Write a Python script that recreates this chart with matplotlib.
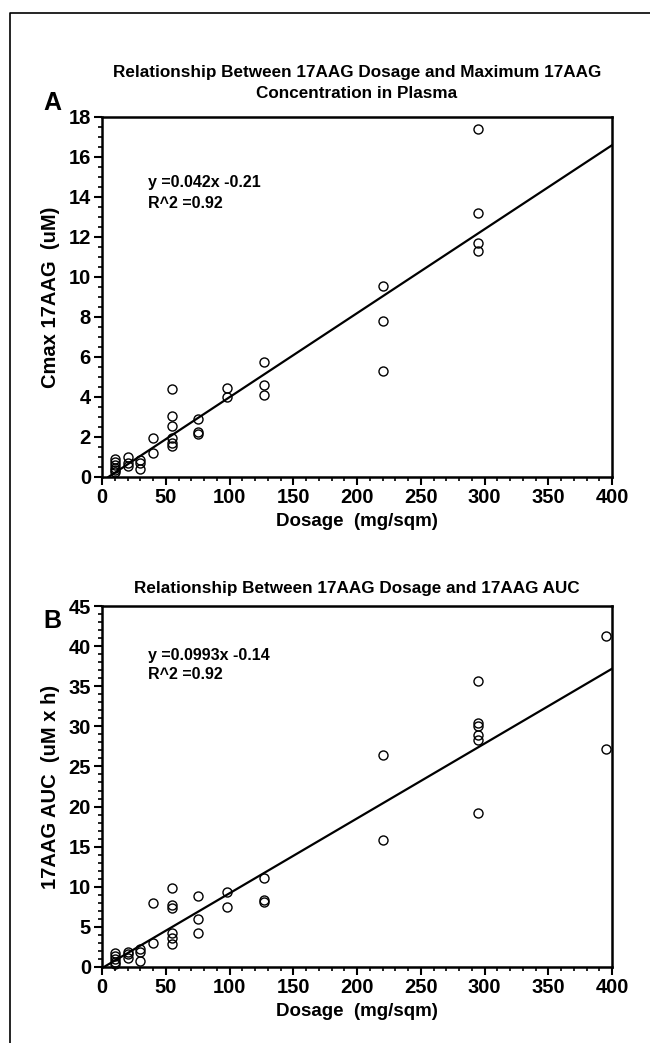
import matplotlib
matplotlib.use("Agg")
import matplotlib.pyplot as plt
from matplotlib.lines import Line2D
from matplotlib.ticker import MultipleLocator
import numpy as np

plt.rcParams['font.family'] = ['Liberation Sans', 'DejaVu Sans']
plt.rcParams['font.weight'] = 'bold'

# ---- Panel A data: Cmax (uM) by dosage (mg/sqm) ----
dose_a = [10, 10, 10, 10, 10, 10,
          20, 20, 20,
          30, 30, 30,
          40, 40,
          55, 55, 55, 55, 55, 55,
          75, 75, 75,
          98, 98,
          127, 127, 127,
          220, 220, 220,
          295, 295, 295, 295]
cmax = [0.9, 0.75, 0.6, 0.45, 0.35, 0.25,
        1.0, 0.7, 0.55,
        0.85, 0.7, 0.4,
        1.95, 1.2,
        4.4, 3.05, 2.55, 1.95, 1.7, 1.55,
        2.9, 2.25, 2.15,
        4.45, 4.0,
        5.75, 4.6, 4.1,
        9.55, 7.8, 5.3,
        17.4, 13.2, 11.7, 11.3]
fit_a = (0.042, -0.21)
eq_a = ["y =0.042x -0.21", "R^2 =0.92"]

# ---- Panel B data: AUC (uM x h) by dosage ----
dose_b = [10, 10, 10, 10, 10,
          20, 20, 20,
          30, 30, 30,
          40, 40,
          55, 55, 55, 55, 55, 55,
          75, 75, 75,
          98, 98,
          127, 127, 127,
          220, 220,
          295, 295, 295, 295, 295, 295,
          395, 395]
auc = [1.8, 1.4, 1.0, 0.6, 0.35,
       1.9, 1.6, 1.15,
       2.3, 1.9, 0.7,
       8.0, 3.0,
       9.8, 7.7, 7.3, 4.2, 3.6, 2.9,
       8.9, 6.0, 4.2,
       9.3, 7.5,
       11.1, 8.4, 8.1,
       26.4, 15.8,
       35.6, 30.4, 30.0, 28.9, 28.3, 19.2,
       41.2, 27.2]
fit_b = (0.0933, -0.14)
eq_b = ["y =0.0993x -0.14", "R^2 =0.92"]

W, H = 650, 1043
fig = plt.figure(figsize=(W/100, H/100), dpi=100)

def px_axes(l, t, r, b):
    return [l/W, 1 - b/H, (r-l)/W, (b-t)/H]

def style(ax, ymax, ymaj, ymin):
    ax.set_xlim(0, 400)
    ax.set_ylim(0, ymax)
    ax.xaxis.set_major_locator(MultipleLocator(50))
    ax.xaxis.set_minor_locator(MultipleLocator(10))
    ax.yaxis.set_major_locator(MultipleLocator(ymaj))
    ax.yaxis.set_minor_locator(MultipleLocator(ymin))
    for s in ax.spines.values():
        s.set_linewidth(1.8)
    ax.tick_params(which='major', direction='out', length=6, width=1.5,
                   labelsize=14.5, pad=2, top=False, right=False)
    ax.tick_params(which='minor', direction='out', length=3, width=1.2,
                   top=False, right=False)
    for lab in ax.get_xticklabels() + ax.get_yticklabels():
        lab.set_fontweight('bold')

def draw(ax, xs, ys, fit):
    ax.plot(xs, ys, linestyle='none', marker='o', markersize=6.5,
            markerfacecolor='none', markeredgecolor='black', markeredgewidth=1.0,
            clip_on=False, zorder=3)
    m, c = fit
    x0 = max(0.0, -c/m)
    xx = np.array([x0, 400])
    ax.plot(xx, m*xx + c, color='black', linewidth=1.6, zorder=2)

axA = fig.add_axes(px_axes(102, 117, 612, 477))
draw(axA, dose_a, cmax, fit_a)
style(axA, 18, 2, 0.5)
axA.text(36, 14.7, eq_a[0], fontsize=11.5, fontweight='bold', va='center', ha='left')
axA.text(36, 13.7, eq_a[1], fontsize=11.5, fontweight='bold', va='center', ha='left')
axA.set_xlabel("Dosage  (mg/sqm)", fontsize=13.5, fontweight='bold', labelpad=4)
axA.set_ylabel("Cmax 17AAG  (uM)", fontsize=14.5, fontweight='bold', labelpad=6)

axB = fig.add_axes(px_axes(102, 606, 612, 967))
draw(axB, dose_b, auc, fit_b)
style(axB, 45, 5, 1)
axB.text(36, 38.8, eq_b[0], fontsize=11.5, fontweight='bold', va='center', ha='left')
axB.text(36, 36.4, eq_b[1], fontsize=11.5, fontweight='bold', va='center', ha='left')
axB.set_xlabel("Dosage  (mg/sqm)", fontsize=13.5, fontweight='bold', labelpad=4)
axB.set_ylabel("17AAG AUC  (uM x h)", fontsize=14.5, fontweight='bold', labelpad=6)

def ftext(x, y, s, **kw):
    fig.text(x/W, 1 - y/H, s, **kw)

ftext(357, 73, "Relationship Between 17AAG Dosage and Maximum 17AAG",
      fontsize=12.3, fontweight='bold', ha='center', va='center')
ftext(357, 94, "Concentration in Plasma",
      fontsize=12.3, fontweight='bold', ha='center', va='center')
ftext(357, 589, "Relationship Between 17AAG Dosage and 17AAG AUC",
      fontsize=12.3, fontweight='bold', ha='center', va='center')
ftext(52, 103, "A", fontsize=18, fontweight='bold', ha='center', va='center')
ftext(52, 621, "B", fontsize=18, fontweight='bold', ha='center', va='center')

fig.add_artist(Line2D([10/W, 10/W, 1.0], [0.0, 1 - 13/H, 1 - 13/H],
                      transform=fig.transFigure, color='black', linewidth=1.2))

fig.savefig("out.png", dpi=100)
